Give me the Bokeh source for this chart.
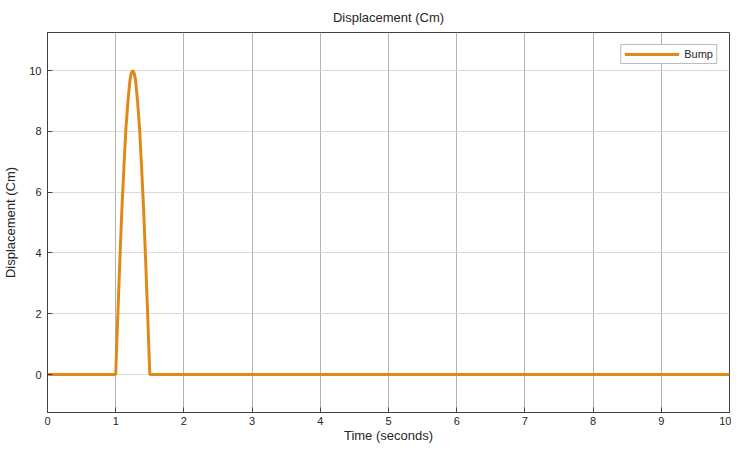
from bokeh.plotting import figure
from bokeh.embed import file_html
from bokeh.resources import INLINE
from bokeh.models import FixedTicker, Range1d, Legend, LegendItem

# Data
time_s = [0.0, 1.0, 1.03, 1.06, 1.09, 1.12, 1.15, 1.18, 1.21, 1.23, 1.25,
          1.27, 1.29, 1.32, 1.35, 1.38, 1.41, 1.44, 1.47, 1.5, 10.0]
bump_cm = [0.0, 0.0, 1.9, 3.7, 5.4, 6.8, 8.1, 9.0, 9.7, 9.92, 10.0,
           9.92, 9.7, 9.0, 8.1, 6.8, 5.4, 3.7, 1.9, 0.0, 0.0]
x_ticks = [0, 1, 2, 3, 4, 5, 6, 7, 8, 9, 10]
y_ticks = [0, 2, 4, 6, 8, 10]

FONT = "Liberation Sans"
TXT = "#262626"

p = figure(width=731, height=445, output_backend="svg", toolbar_location=None,
           x_range=Range1d(0, 10), y_range=Range1d(-1.25, 11.25),
           title="Displacement (Cm)",
           min_border_left=42, min_border_right=2, min_border_top=0, min_border_bottom=0)

r = p.line(time_s, bump_cm, line_color="#E0891A", line_width=3)

p.title.align = "center"
p.title.text_font = FONT
p.title.text_font_size = "13px"
p.title.text_font_style = "normal"
p.title.text_color = TXT
p.title.standoff = 7
p.title.padding = 4

p.xaxis.ticker = FixedTicker(ticks=x_ticks)
p.yaxis.ticker = FixedTicker(ticks=y_ticks)
p.xaxis.axis_label = "Time (seconds)"
p.yaxis.axis_label = "Displacement (Cm)"
for ax in (p.xaxis, p.yaxis):
    ax.axis_label_text_font = FONT
    ax.axis_label_text_font_size = "13px"
    ax.axis_label_text_font_style = "normal"
    ax.axis_label_text_color = TXT
    ax.major_label_text_font = FONT
    ax.major_label_text_font_size = "11px"
    ax.major_label_text_color = TXT
    ax.axis_line_color = "#404040"
    ax.major_tick_line_color = "#404040"
    ax.major_tick_in = 5
    ax.major_tick_out = 0
    ax.minor_tick_line_color = None
p.xaxis.major_label_standoff = 4
p.xaxis.axis_label_standoff = 0
p.yaxis.major_label_standoff = 6
p.yaxis.axis_label_standoff = 8

p.xgrid.ticker = FixedTicker(ticks=x_ticks)
p.ygrid.ticker = FixedTicker(ticks=y_ticks)
p.xgrid.grid_line_color = "#b2b2b2"
p.ygrid.grid_line_color = "#dadada"

p.outline_line_color = "#404040"
p.outline_line_width = 1

legend = Legend(items=[LegendItem(label="Bump", renderers=[r])], location="top_right")
legend.label_text_font = FONT
legend.label_text_font_size = "11px"
legend.label_text_color = TXT
legend.border_line_color = "#7a7a7a"
legend.glyph_width = 55
legend.glyph_height = 12
legend.padding = 3
legend.spacing = 0
legend.margin = 12
legend.label_standoff = 5
p.add_layout(legend)

open("out.html", "w").write(file_html(p, INLINE))
